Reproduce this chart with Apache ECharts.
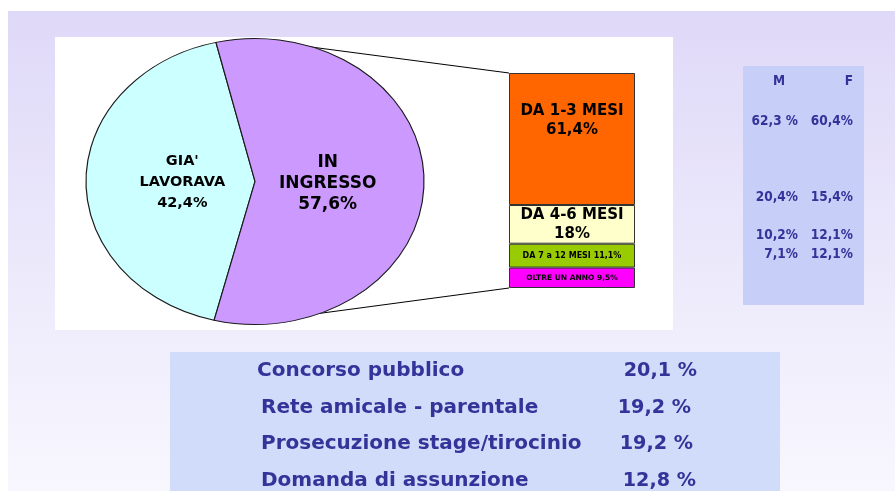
<!DOCTYPE html>
<html>
<head>
<meta charset="utf-8">
<script src="https://cdn.jsdelivr.net/npm/echarts@6/dist/echarts.min.js"></script>
<style>
html,body{margin:0;padding:0;background:#fff;}
#c{width:895px;height:491px;}
</style>
</head>
<body>
<div id="c"></div>
<script>
// ---- data ----
const pieLabels = ["GIA'\nLAVORAVA", "IN\nINGRESSO"];
const pieValues = [42.4, 57.6];
const durLabels = ['OLTRE UN ANNO', 'DA 7 a 12 MESI', 'DA 4-6 MESI', 'DA 1-3 MESI'];
const durValues = [9.5, 11.1, 18, 61.4];
const mfHeaders = ['M', 'F'];
const mLabels = ['62,3 %', '20,4%', '10,2%', '7,1%'];
const fLabels = ['60,4%', '15,4%', '12,1%', '12,1%'];
const methods = ['Concorso pubblico', 'Rete amicale - parentale', 'Prosecuzione stage/tirocinio', 'Domanda di assunzione'];
const methodValues = [20.1, 19.2, 19.2, 12.8];

// ---- styles / layout ----
const FONT = 'DejaVu Sans';
const pieColors = ['#CCFFFF', '#CC99FF'];
const pieFonts = [14.5, 17];
const durColors = ['#FF00FF', '#99CC00', '#FFFFCC', '#FF6600'];
const durFonts = [7.5, 8, 15, 15];
const PIE = {cx: 255, cy: 181.5, rx: 169, ry: 143, start: 104, labelR: 0.43};
const BAR = {left: 509, top: 73, width: 126, height: 215};
const fmt = v => String(v).replace('.', ',');
const blue = '#333399';

const chart = echarts.init(document.getElementById('c'), null, {renderer: 'canvas'});

const pieTotal = pieValues.reduce((a, b) => a + b, 0);

function renderPie(params, api) {
  const i = params.dataIndex;
  let before = 0;
  for (let k = 0; k < i; k++) before += pieValues[k];
  const v = api.value(0);
  const a0 = PIE.start + before / pieTotal * 360;
  const a1 = a0 + v / pieTotal * 360;
  const mid = (a0 + a1) / 2 * Math.PI / 180;
  const lx = PIE.cx + Math.cos(mid) * PIE.rx * PIE.labelR;
  const ly = PIE.cy + Math.sin(mid) * PIE.ry * PIE.labelR;
  return {
    type: 'group',
    children: [
      {
        type: 'sector',
        x: PIE.cx, y: PIE.cy,
        scaleX: PIE.rx / PIE.ry, scaleY: 1,
        shape: {cx: 0, cy: 0, r0: 0, r: PIE.ry, startAngle: a0 * Math.PI / 180, endAngle: a1 * Math.PI / 180, clockwise: true},
        style: {fill: pieColors[i], stroke: '#1a1a1a', lineWidth: 1, strokeNoScale: true}
      },
      {
        type: 'text',
        x: lx, y: ly + 1.5,
        style: {
          text: pieLabels[i] + '\n' + fmt(v) + '%',
          fontFamily: FONT, fontWeight: 'bold', fontSize: pieFonts[i],
          lineHeight: 21, fill: '#000', align: 'center', verticalAlign: 'middle'
        }
      }
    ]
  };
}

const barSeries = durValues.map((v, i) => ({
  type: 'bar',
  name: durLabels[i],
  stack: 'dur',
  barWidth: '100%',
  data: [v],
  itemStyle: {color: durColors[i], borderColor: '#333', borderWidth: 1},
  label: {
    show: true,
    position: i === 3 ? 'insideTop' : 'inside',
    distance: 29,
    color: '#000',
    fontFamily: FONT,
    fontWeight: 'bold',
    fontSize: durFonts[i],
    lineHeight: durFonts[i] >= 12 ? 19 : durFonts[i] + 2,
    formatter: () => durLabels[i] + (durFonts[i] >= 12 ? '\n' : ' ') + fmt(v) + '%'
  },
  emphasis: {disabled: true},
  silent: true,
  z: 3
}));

const graphics = [];
// background
graphics.push({type: 'rect', shape: {x: 8, y: 11, width: 895 - 8, height: 491 - 11},
  style: {fill: new echarts.graphic.LinearGradient(0, 0, 0, 1, [
    {offset: 0, color: '#DFD9F8'}, {offset: 1, color: '#F8F7FE'}])}, z: -10});
graphics.push({type: 'rect', shape: {x: 55, y: 37, width: 618, height: 293}, style: {fill: '#FFFFFF'}, z: -9});
graphics.push({type: 'rect', shape: {x: 743, y: 66, width: 121, height: 239}, style: {fill: '#C7CEF7'}, z: -9});
graphics.push({type: 'rect', shape: {x: 170, y: 352, width: 610, height: 139}, style: {fill: '#D0DCFA'}, z: -9});
// connector lines from pie to bar
graphics.push({type: 'line', shape: {x1: 250, y1: PIE.cy - PIE.ry + 0.5, x2: BAR.left, y2: BAR.top},
  style: {stroke: '#000', lineWidth: 1}, z: -5});
graphics.push({type: 'line', shape: {x1: 300, y1: 316, x2: BAR.left, y2: BAR.top + BAR.height},
  style: {stroke: '#000', lineWidth: 1}, z: -5});
// M / F table
const mfFont = {fontFamily: FONT, fontWeight: 'bold', fontSize: 13.5, fill: blue, verticalAlign: 'middle'};
graphics.push({type: 'text', x: 779, y: 81.5, scaleX: 0.9, style: Object.assign({text: mfHeaders[0], align: 'center'}, mfFont)});
graphics.push({type: 'text', x: 853, y: 81.5, scaleX: 0.9, style: Object.assign({text: mfHeaders[1], align: 'right'}, mfFont)});
const mfRowY = [121, 197, 235.7, 254];
mLabels.forEach((t, i) => {
  graphics.push({type: 'text', x: 798, y: mfRowY[i], scaleX: 0.9, style: Object.assign({text: t, align: 'right'}, mfFont)});
  graphics.push({type: 'text', x: 853, y: mfRowY[i], scaleX: 0.9, style: Object.assign({text: fLabels[i], align: 'right'}, mfFont)});
});
// bottom table
const rowX = [257, 261, 261, 261];
const pctRight = [697, 691, 693, 696];
const tFont = {fontFamily: FONT, fontWeight: 'bold', fontSize: 20, fill: blue, verticalAlign: 'middle'};
methods.forEach((m, i) => {
  const y = 370.7 + i * 36.7;
  graphics.push({type: 'text', x: rowX[i], y: y, style: Object.assign({text: m, align: 'left'}, tFont)});
  graphics.push({type: 'text', x: pctRight[i], y: y, scaleX: 0.96, style: Object.assign({text: fmt(methodValues[i]) + ' %', align: 'right'}, tFont)});
});

chart.setOption({
  animation: false,
  backgroundColor: '#FFFFFF',
  grid: {left: BAR.left, top: BAR.top, width: BAR.width, height: BAR.height, containLabel: false},
  xAxis: {type: 'category', data: ['IN INGRESSO'], show: false},
  yAxis: {type: 'value', min: 0, max: 100, show: false},
  graphic: {elements: graphics},
  series: [
    {
      type: 'custom',
      coordinateSystem: 'none',
      renderItem: renderPie,
      data: pieValues.map((v, i) => ({value: [v], name: pieLabels[i]})),
      silent: true,
      z: 2
    }
  ].concat(barSeries)
});
</script>
</body>
</html>
